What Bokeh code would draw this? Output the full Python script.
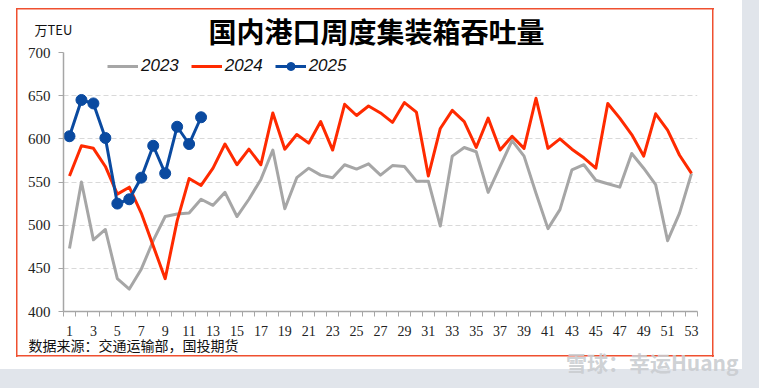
from bokeh.plotting import figure
from bokeh.models import (Range1d, FixedTicker, Label, Legend, LegendItem)
from bokeh.embed import file_html
from bokeh.resources import INLINE

# ---- data ----
weeks = list(range(1, 54))
v2023 = [473, 550, 483, 495, 438, 426, 449, 482, 510, 513,
         514, 530, 523, 538, 510, 530, 553, 587, 519, 555,
         566, 558, 555, 570, 565, 571, 558, 569, 568, 551,
         551, 499, 580, 590, 585, 538, 568, 598, 580, 537,
         496, 518, 564, 570, 552, 548, 544, 583, 566, 547,
         482, 514, 560]
v2024 = [557, 592, 589, 568, 536, 544, 514, 476, 438, 505,
         554, 546, 566, 594, 570, 588, 570, 630, 588, 605,
         595, 620, 587, 640, 627, 638, 630, 619, 642, 631,
         557, 612, 633, 620, 590, 624, 587, 603, 589, 647,
         589, 600, 588, 578, 566, 641, 624, 605, 580, 629,
         610, 581, 560]
weeks2025 = list(range(1, 13))
v2025 = [603, 645, 641, 601, 525, 530, 555, 592, 560, 614, 594, 625]
series_names = ["2023", "2024", "2025"]
y_ticks = [400, 450, 500, 550, 600, 650, 700]
x_labels = weeks[::2]

title_text = "国内港口周度集装箱吞吐量"
unit_text = "万TEU"
source_text = "数据来源：交通运输部，国投期货"
watermark_text = "雪球：幸运Huang"

GRAY = "#a6a6a6"
RED = "#ff2a00"
BLUE = "#0a4aa0"
BORDER = "#ef5030"
STRIP = "#e1e5eb"

# page decoration (chart border + window strips) drawn as CSS background of the figure
grad = lambda c: f"linear-gradient({c},{c})"
css_bg = {
    "background-color": "white",
    "background-image": ", ".join([grad(BORDER)] * 4 + [grad(STRIP)] * 2),
    "background-position": "16px 8px, 16px 355px, 16px 8px, 712px 8px, 742px 0px, 0px 369px",
    "background-size": "698px 1.5px, 698px 1.5px, 1.5px 349px, 1.5px 349px, 17px 388px, 759px 19px",
    "background-repeat": "no-repeat",
}

p = figure(width=759, height=388,
           x_range=Range1d(weeks[0] - 0.5, weeks[-1] + 0.5),
           y_range=Range1d(y_ticks[0], y_ticks[-1]),
           output_backend="svg", toolbar_location=None,
           min_border_left=63, min_border_right=62,
           min_border_top=52, min_border_bottom=76)
p.styles = css_bg
p.background_fill_color = None
p.border_fill_color = None
p.outline_line_color = None

# axes
xa = p.xaxis[0]
xa.ticker = FixedTicker(ticks=x_labels,
                        minor_ticks=[w - 0.5 for w in weeks] + [weeks[-1] + 0.5])
xa.major_tick_line_color = None
xa.major_tick_out = 0
xa.major_tick_in = 0
xa.minor_tick_out = 5
xa.minor_tick_in = 0
xa.minor_tick_line_color = "#a6a6a6"
xa.axis_line_color = "#a6a6a6"
xa.axis_line_width = 1.5
xa.major_label_text_font = "Liberation Serif"
xa.major_label_text_font_size = "14px"
xa.major_label_text_color = "#222222"
xa.major_label_standoff = 9

ya = p.yaxis[0]
ya.ticker = FixedTicker(ticks=y_ticks)
ya.major_tick_out = 5
ya.major_tick_in = 0
ya.minor_tick_line_color = None
ya.major_tick_line_color = "#a6a6a6"
ya.axis_line_color = "#a6a6a6"
ya.axis_line_width = 1.5
ya.major_label_text_font = "Liberation Serif"
ya.major_label_text_font_size = "15px"
ya.major_label_text_color = "#222222"
ya.major_label_standoff = 8

p.xgrid.grid_line_color = None
p.ygrid.grid_line_color = "#d9d9d9"
p.ygrid.grid_line_dash = "5 3"
p.ygrid.grid_line_width = 1

# series
r23 = p.line(weeks, v2023, line_color=GRAY, line_width=3, line_join="round")
r24 = p.line(weeks, v2024, line_color=RED, line_width=3, line_join="round")
r25 = p.line(weeks2025, v2025, line_color=BLUE, line_width=3, line_join="round")
r25m = p.scatter(weeks2025, v2025, size=11, marker="circle",
                 fill_color=BLUE, line_color=BLUE)

legend = Legend(items=[LegendItem(label=series_names[0], renderers=[r23]),
                       LegendItem(label=series_names[1], renderers=[r24]),
                       LegendItem(label=series_names[2], renderers=[r25, r25m])],
                orientation="horizontal", location=(44, 235))
legend.label_text_font = "Liberation Sans"
legend.label_text_font_style = "italic"
legend.label_text_font_size = "17px"
legend.label_text_color = "#111111"
legend.glyph_width = 31
legend.glyph_height = 20
legend.label_standoff = 3
legend.spacing = 12
legend.padding = 0
legend.margin = 0
legend.border_line_color = None
legend.background_fill_alpha = 0
p.add_layout(legend, "center")

# texts outside the frame: placed in side panels (not clipped), positioned in data units
p.add_layout(Label(x=26.67, y=725.4, text=title_text,
                   text_font="Noto Sans CJK SC", text_font_style="bold", text_font_size="28px",
                   text_color="#000000", text_align="center", text_baseline="middle"), "above")
p.add_layout(Label(x=-1.92, y=726.5, text=unit_text,
                   text_font="Noto Sans CJK SC", text_font_size="13px",
                   text_color="#111111", text_align="left", text_baseline="middle"), "right")
p.add_layout(Label(x=-2.43, y=360.8, text=source_text,
                   text_font="Noto Sans CJK SC", text_font_size="14px",
                   text_color="#111111", text_align="left", text_baseline="middle"), "below")
p.add_layout(Label(x=42.5, y=341.2, text=watermark_text,
                   text_font="Noto Sans CJK SC", text_font_size="21px", text_font_style="bold",
                   text_color="#c9ccd0", text_alpha=0.9, text_align="left", text_baseline="middle"),
             "below")

open("out.html", "w").write(file_html(p, INLINE))
